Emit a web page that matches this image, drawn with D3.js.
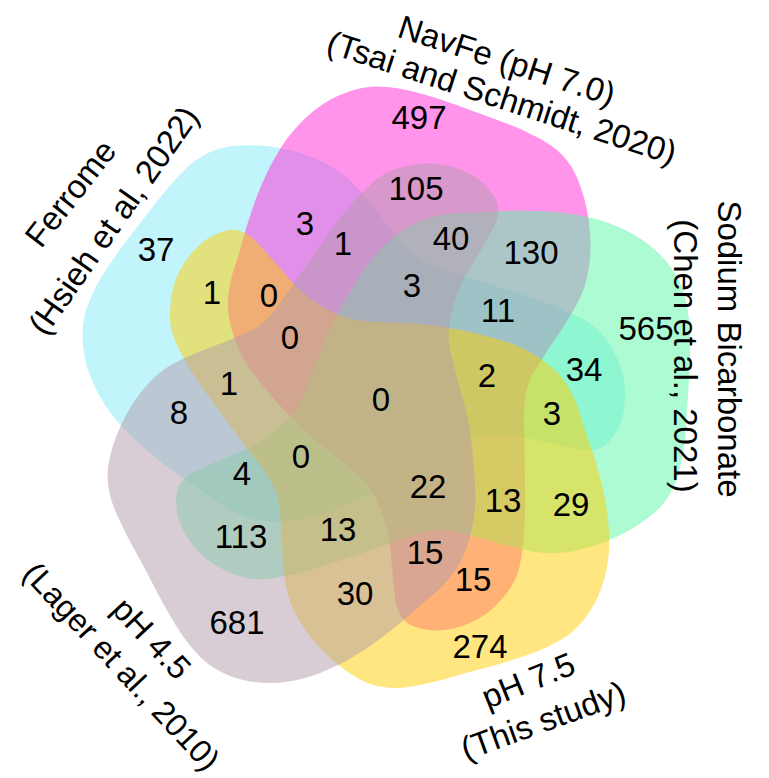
<!DOCTYPE html>
<html><head><meta charset="utf-8">
<script src="https://cdn.jsdelivr.net/npm/d3@7"></script>
<style>body{margin:0;background:#fff}svg{display:block}</style>
</head><body><svg id="chart" width="769" height="778"></svg>
<script>
// ---- data ----
const setKeys = ["A", "B", "C", "D", "E"];
const setTitles = ["Ferrome", "NavFe (pH 7.0)", "Sodium Bicarbonate", "pH 7.5", "pH 4.5"];
const setSubtitles = ["(Hsieh et al, 2022)", "(Tsai and Schmidt, 2020)", "(Chen et al., 2021)", "(This study)", "(Lager et al., 2010)"];
const regionKeys = ["A","B","C","D","E",
  "AB","AC","AD","AE","BC","BD","BE","CD","CE","DE",
  "ABC","ABD","ABE","ACD","ACE","ADE","BCD","BCE","BDE","CDE",
  "ABCD","ABCE","ABDE","ACDE","BCDE","ABCDE"];
const regionCounts = [37,497,565,274,681,
  3,34,1,8,130,15,105,29,113,30,
  11,0,1,3,4,1,13,40,15,13,
  2,3,0,0,22,0];

// ---- styling / layout (diagram units, relative to centre) ----
const setColors = ["#85e9f7", "#ff29d5", "#59f7a5", "#ffcd01", "#b39bab"];
const setRotation = [144, -144, -72, 0, 72];
// outer-lobe bulge per set: [scale, centre angle, half width]
const lobeAdjust = [[1.045, 170, 90], [1.045, 165, 90], [1.06, 150, 90], [1.0, 150, 90], [1.075, 125, 60]];
const baseShape = [[-214,-80],[-210,-113],[-199,-136],[-181,-156],[-162,-166],[-148,-168],[-134,-162],[-122,-150],
  [-104,-130],[-87,-111],[-64,-93],[-37,-80],[-4,-76],[36,-74],[66,-70],[106,-61],[136,-51],[161,-36],[178,-20],
  [191,2],[201,32],[211,62],[219,92],[224,122],[225,152],[220,182],[208,210],[188,234],[161,250],[128,262],[86,274],
  [41,286],[11,290],[-14,286],[-39,272],[-64,250],[-84,224],[-96,197],[-101,162],[-103,127],[-107,97],[-119,74],
  [-141,45],[-164,14],[-187,-18],[-202,-43],[-211,-63]];
const regionPos = [[-228,-149],[35,-281],[262,-70],[96,248],[-147,224],
  [-79,-175],[200,-29],[-172,-106],[-205,14],[147,-146],[89,181],[32,-210],[187,106],[-143,138],[-29,195],
  [114,-88],[-115,-103],[-41,-155],[168,15],[-142,75],[-155,-15],[119,102],[67,-160],[41,154],[-46,131],
  [103,-23],[28,-113],[-94,-61],[-83,58],[44,88],[-3,1]];
const titlePos = [[-314,-205,-52],[123,-338,18],[346,-49,90],[144,282,-22],[-232,240,47]];
const subtitlePos = [[-271,-178,-55],[118,-301,18],[302,-42,90],[159,322,-20],[-262,268,47]];

const cx = 384, cy = 398;
const x = d3.scaleLinear().domain([-400, 400]).range([cx - 400, cx + 400]);
const y = d3.scaleLinear().domain([-400, 400]).range([cy - 400, cy + 400]);

const svg = d3.select("#chart");
const font = "'Liberation Sans', Arial, sans-serif";

function rot(p, deg) {
  const a = deg * Math.PI / 180, c = Math.cos(a), s = Math.sin(a);
  return [p[0] * c - p[1] * s, p[0] * s + p[1] * c];
}
function bulge(p, adj) {
  const th = (Math.atan2(p[0], -p[1]) * 180 / Math.PI + 360) % 360;
  let d = Math.abs(th - adj[1]); if (d > 180) d = 360 - d;
  const w = d >= adj[2] ? 0 : 0.5 * (1 + Math.cos(Math.PI * d / adj[2]));
  const f = 1 + (adj[0] - 1) * w;
  return [p[0] * f, p[1] * f];
}
const line = d3.line().x(d => x(d[0])).y(d => y(d[1])).curve(d3.curveCatmullRomClosed.alpha(0.5));

svg.append("g").selectAll("path").data(setKeys).join("path")
  .attr("d", (k, i) => line(baseShape.map(p => rot(bulge(p, lobeAdjust[i]), setRotation[i]))))
  .attr("fill", (k, i) => setColors[i])
  .attr("fill-opacity", 0.5)
  .attr("stroke", "none");

svg.append("g").selectAll("text").data(regionKeys).join("text")
  .attr("x", (k, i) => x(regionPos[i][0]))
  .attr("y", (k, i) => y(regionPos[i][1]))
  .attr("dy", "0.36em")
  .attr("text-anchor", "middle")
  .attr("font-family", font).attr("font-size", 33).attr("fill", "#000")
  .text((k, i) => regionCounts[i]);

const tg = svg.append("g").attr("font-family", font).attr("font-size", 33).attr("fill", "#000");
tg.selectAll("text.t").data(setTitles).join("text").attr("class", "t")
  .attr("transform", (d, i) => `translate(${x(titlePos[i][0])},${y(titlePos[i][1])}) rotate(${titlePos[i][2]})`)
  .attr("text-anchor", "middle").attr("dy", "0.36em").text(d => d);
tg.selectAll("text.s").data(setSubtitles).join("text").attr("class", "s")
  .attr("transform", (d, i) => `translate(${x(subtitlePos[i][0])},${y(subtitlePos[i][1])}) rotate(${subtitlePos[i][2]})`)
  .attr("text-anchor", "middle").attr("dy", "0.36em")
  .attr("font-size", (d, i) => i === 4 ? 32 : 33).text(d => d);
</script></body></html>
